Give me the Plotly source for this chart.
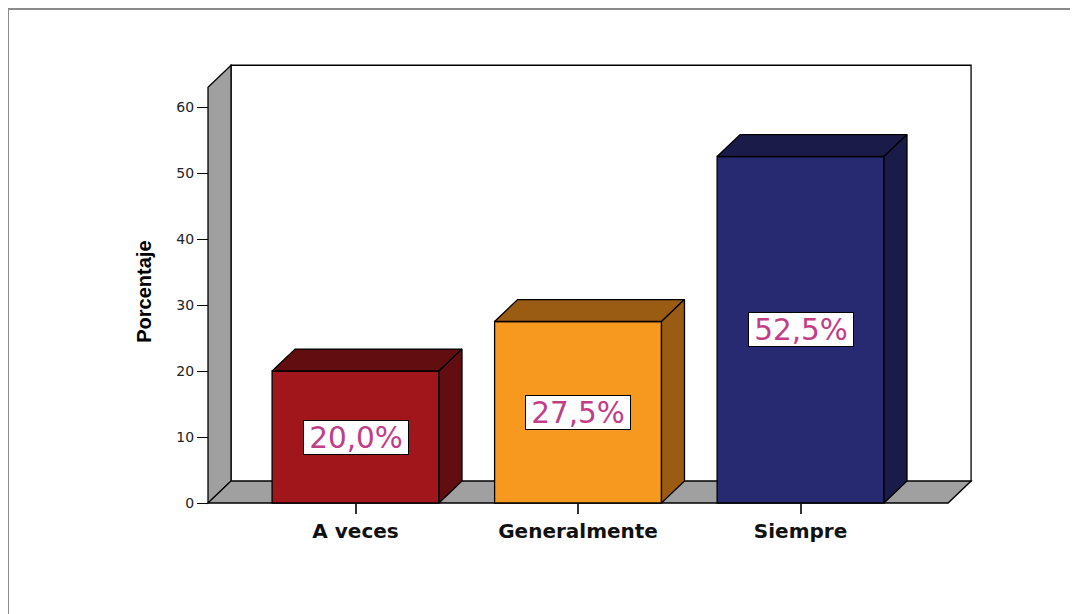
import plotly.graph_objects as go

# Porcentaje por categoria (grafico de barras 3D estilo SPSS)
categorias = ["A veces", "Generalmente", "Siempre"]
porcentajes = [20.0, 27.5, 52.5]
etiquetas = ["20,0%", "27,5%", "52,5%"]
y_ticks = [0, 10, 20, 30, 40, 50, 60]

colores_frente = ["#a0161b", "#f7991f", "#272a70"]
colores_lado = ["#620e10", "#9a5b12", "#1b1b4a"]

# geometria del "3D" en unidades de los ejes
ancho = 0.75          # ancho de barra (unidades de categoria)
dx = 0.1034           # profundidad horizontal
dy = 3.33             # profundidad vertical (unidades de %)
x_izq = -0.663        # borde frontal izquierdo del suelo
x_der = 2.663         # borde frontal derecho del suelo
y_techo = 63.0        # altura de la pared lateral
gris = "#a0a0a0"

fig = go.Figure()

# caras frontales
fig.add_trace(go.Bar(
    x=list(range(len(categorias))), y=porcentajes, width=ancho,
    marker=dict(color=colores_frente, line=dict(color="black", width=1.3)),
    hoverinfo="skip", showlegend=False))

# caras superior y lateral
for i, v in enumerate(porcentajes):
    a, b = i - ancho / 2, i + ancho / 2
    fig.add_trace(go.Scatter(
        x=[a, b, b + dx, a + dx, a], y=[v, v, v + dy, v + dy, v],
        fill="toself", fillcolor=colores_lado[i], mode="lines",
        line=dict(color="black", width=1.3), hoverinfo="skip",
        showlegend=False, cliponaxis=False))
    fig.add_trace(go.Scatter(
        x=[b, b + dx, b + dx, b, b], y=[0, dy, v + dy, v, 0],
        fill="toself", fillcolor=colores_lado[i], mode="lines",
        line=dict(color="black", width=1.3), hoverinfo="skip",
        showlegend=False, cliponaxis=False))

# paredes y suelo detras de las barras
shapes = [
    dict(type="rect", x0=x_izq + dx, x1=x_der + dx, y0=dy, y1=y_techo + dy,
         fillcolor="white", line=dict(color="black", width=1.3), layer="below"),
    dict(type="path",
         path=f"M {x_izq},0 L {x_izq + dx},{dy} L {x_izq + dx},{y_techo + dy} "
              f"L {x_izq},{y_techo} Z",
         fillcolor=gris, line=dict(color="black", width=1.3), layer="below"),
    dict(type="path",
         path=f"M {x_izq},0 L {x_der},0 L {x_der + dx},{dy} L {x_izq + dx},{dy} Z",
         fillcolor=gris, line=dict(color="black", width=1.3), layer="below"),
    # marco exterior
    dict(type="rect", xref="paper", yref="paper", x0=-0.2465, x1=1.2,
         y0=-0.4, y1=1.1057, line=dict(color="#8a8a8a", width=2),
         fillcolor="rgba(0,0,0,0)"),
]

anotaciones = []
for i, (v, t) in enumerate(zip(porcentajes, etiquetas)):
    anotaciones.append(dict(
        x=i, y=v / 2, text=t, showarrow=False, xref="x", yref="y",
        font=dict(family="DejaVu Sans", size=29.5, color="#c13e87"),
        bgcolor="white", bordercolor="black", borderwidth=1, borderpad=0,
        width=104, height=33))
anotaciones.append(dict(
    text="<b>Porcentaje</b>", textangle=-90, showarrow=False,
    xref="paper", yref="y", x=-0.072, y=32.0, xanchor="center",
    font=dict(family="Liberation Sans", size=20, color="black")))

fig.update_layout(
    width=1070, height=606,
    margin=dict(l=192, r=99, t=49, b=103),
    paper_bgcolor="white", plot_bgcolor="white",
    shapes=shapes, annotations=anotaciones,
    xaxis=dict(range=[-0.699, 2.802], tickvals=list(range(len(categorias))),
               ticktext=[f"<b>{c}</b>" for c in categorias],
               ticks="outside", ticklen=10, tickwidth=2, tickcolor="#333",
               showgrid=False, zeroline=False, showline=False,
               anchor="free", position=8 / 454,
               tickfont=dict(family="DejaVu Sans", size=20, color="#111")),
    yaxis=dict(range=[-1.21, 67.58], tickvals=y_ticks,
               ticks="outside", ticklen=11, tickwidth=1.3, tickcolor="black",
               showgrid=False, zeroline=False, showline=False,
               anchor="free", position=8 / 779,
               tickfont=dict(family="DejaVu Sans", size=14, color="#222")),
)

fig.write_html("out.html")
